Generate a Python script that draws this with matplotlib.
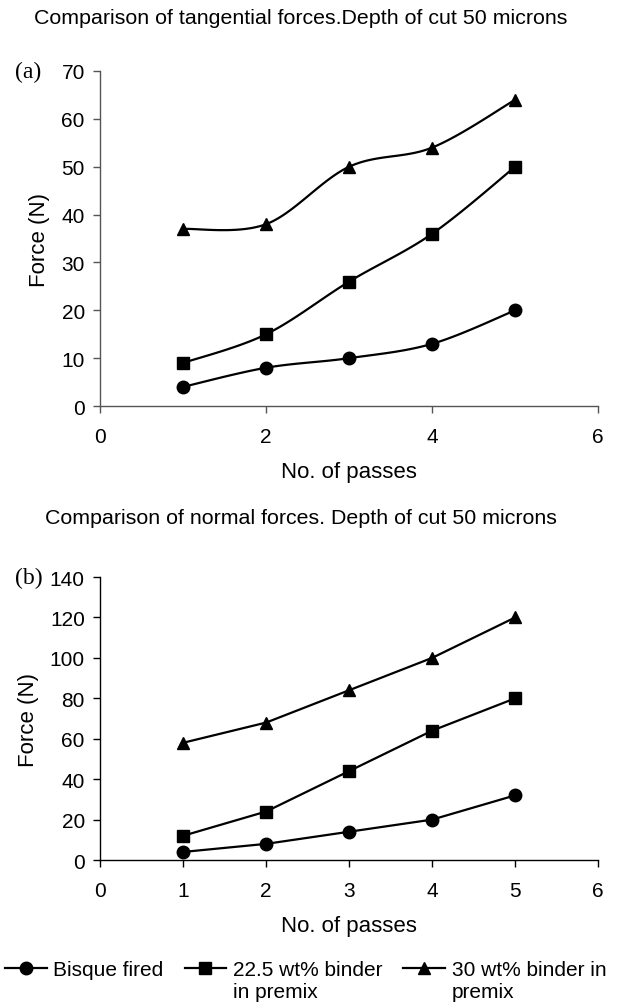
import matplotlib
matplotlib.use('Agg')
import matplotlib.pyplot as plt
import numpy as np

plt.rcParams['font.family'] = ['Liberation Sans', 'DejaVu Sans']

# data
passes = [1, 2, 3, 4, 5]
labels = ['Bisque fired', '22.5 wt% binder', '30 wt% binder in']
labels_2nd = ['', 'in premix', 'premix']
markers = ['o', 's', '^']

tang_bisque = [4, 8, 10, 13, 20]
tang_225 = [9, 15, 26, 36, 50]
tang_30 = [37, 38, 50, 54, 64]

norm_bisque = [4, 8, 14, 20, 32]
norm_225 = [12, 24, 44, 64, 80]
norm_30 = [58, 68, 84, 100, 120]


# Excel-like smoothed line (Catmull-Rom as cubic bezier)
def smooth(x, y, n=30):
    p = np.column_stack([x, y]).astype(float)
    p = np.vstack([p[0], p, p[-1]])
    out = []
    t = np.linspace(0, 1, n)[:, None]
    for i in range(1, len(p) - 2):
        p0, p3 = p[i], p[i + 1]
        c1 = p0 + (p[i + 1] - p[i - 1]) / 6
        c2 = p3 - (p[i + 2] - p[i]) / 6
        seg = (1 - t)**3 * p0 + 3 * (1 - t)**2 * t * c1 + 3 * (1 - t) * t**2 * c2 + t**3 * p3
        out.append(seg)
    out = np.vstack(out)
    return out[:, 0], out[:, 1]


fig = plt.figure(figsize=(6.18, 10.04), dpi=100)
ax1 = fig.add_axes([0.162, 0.5946, 0.806, 0.3337])
ax2 = fig.add_axes([0.162, 0.1424, 0.806, 0.2819])


def style(ax, color):
    for s in ['top', 'right']:
        ax.spines[s].set_visible(False)
    for s in ['left', 'bottom']:
        ax.spines[s].set_color(color)
        ax.spines[s].set_linewidth(1)
    ax.tick_params(direction='out', length=5, width=1, color=color,
                   labelsize=15, pad=6)
    ax.tick_params(axis='x', pad=10)
    ax.set_xlabel('No. of passes', fontsize=16, labelpad=11)
    ax.set_ylabel('Force (N)', fontsize=16, labelpad=8)


# top panel: smoothed lines
for ys, m in zip([tang_bisque, tang_225, tang_30], markers):
    sx, sy = smooth(passes, ys)
    ax1.plot(sx, sy, color='black', lw=1.6)
    ax1.plot(passes, ys, ls='none', marker=m, color='black', ms=9)
ax1.set_xlim(0, 6)
ax1.set_ylim(0, 70)
ax1.set_xticks([0, 2, 4, 6])
ax1.set_yticks(range(0, 71, 10))
style(ax1, '#555555')

# bottom panel: straight lines
handles = []
for ys, m, lab in zip([norm_bisque, norm_225, norm_30], markers, labels):
    h, = ax2.plot(passes, ys, color='black', lw=1.6, marker=m, ms=9, label=lab)
    handles.append(h)
ax2.set_xlim(0, 6)
ax2.set_ylim(0, 140)
ax2.set_xticks(range(0, 7))
ax2.set_yticks(range(0, 141, 20))
style(ax2, 'black')

fig.text(0.487, 0.982, 'Comparison of tangential forces.Depth of cut 50 microns',
         ha='center', va='center', fontsize=15.4)
fig.text(0.487, 0.484, 'Comparison of normal forces. Depth of cut 50 microns',
         ha='center', va='center', fontsize=15.4)
fig.text(0.024, 0.928, '(a)', family='Liberation Serif', fontsize=17, va='center')
fig.text(0.024, 0.4243, '(b)', family='Liberation Serif', fontsize=17, va='center')

leg = fig.legend(handles=handles, labels=labels, loc='center left', ncol=3,
                 bbox_to_anchor=(0.008, 0.0329), frameon=False, fontsize=15,
                 handlelength=2.0, handletextpad=0.33, columnspacing=1.0,
                 borderaxespad=0, borderpad=0)

# second lines of the legend labels, placed under the first line
fig.canvas.draw()
inv = fig.transFigure.inverted()
for txt, extra in zip(leg.get_texts(), labels_2nd):
    if extra:
        bb = txt.get_window_extent().transformed(inv)
        fig.text(bb.x0, (bb.y0 + bb.y1) / 2 - 22 / 1004, extra,
                 fontsize=15, va='center', ha='left')

fig.savefig('out.png', dpi=100)
